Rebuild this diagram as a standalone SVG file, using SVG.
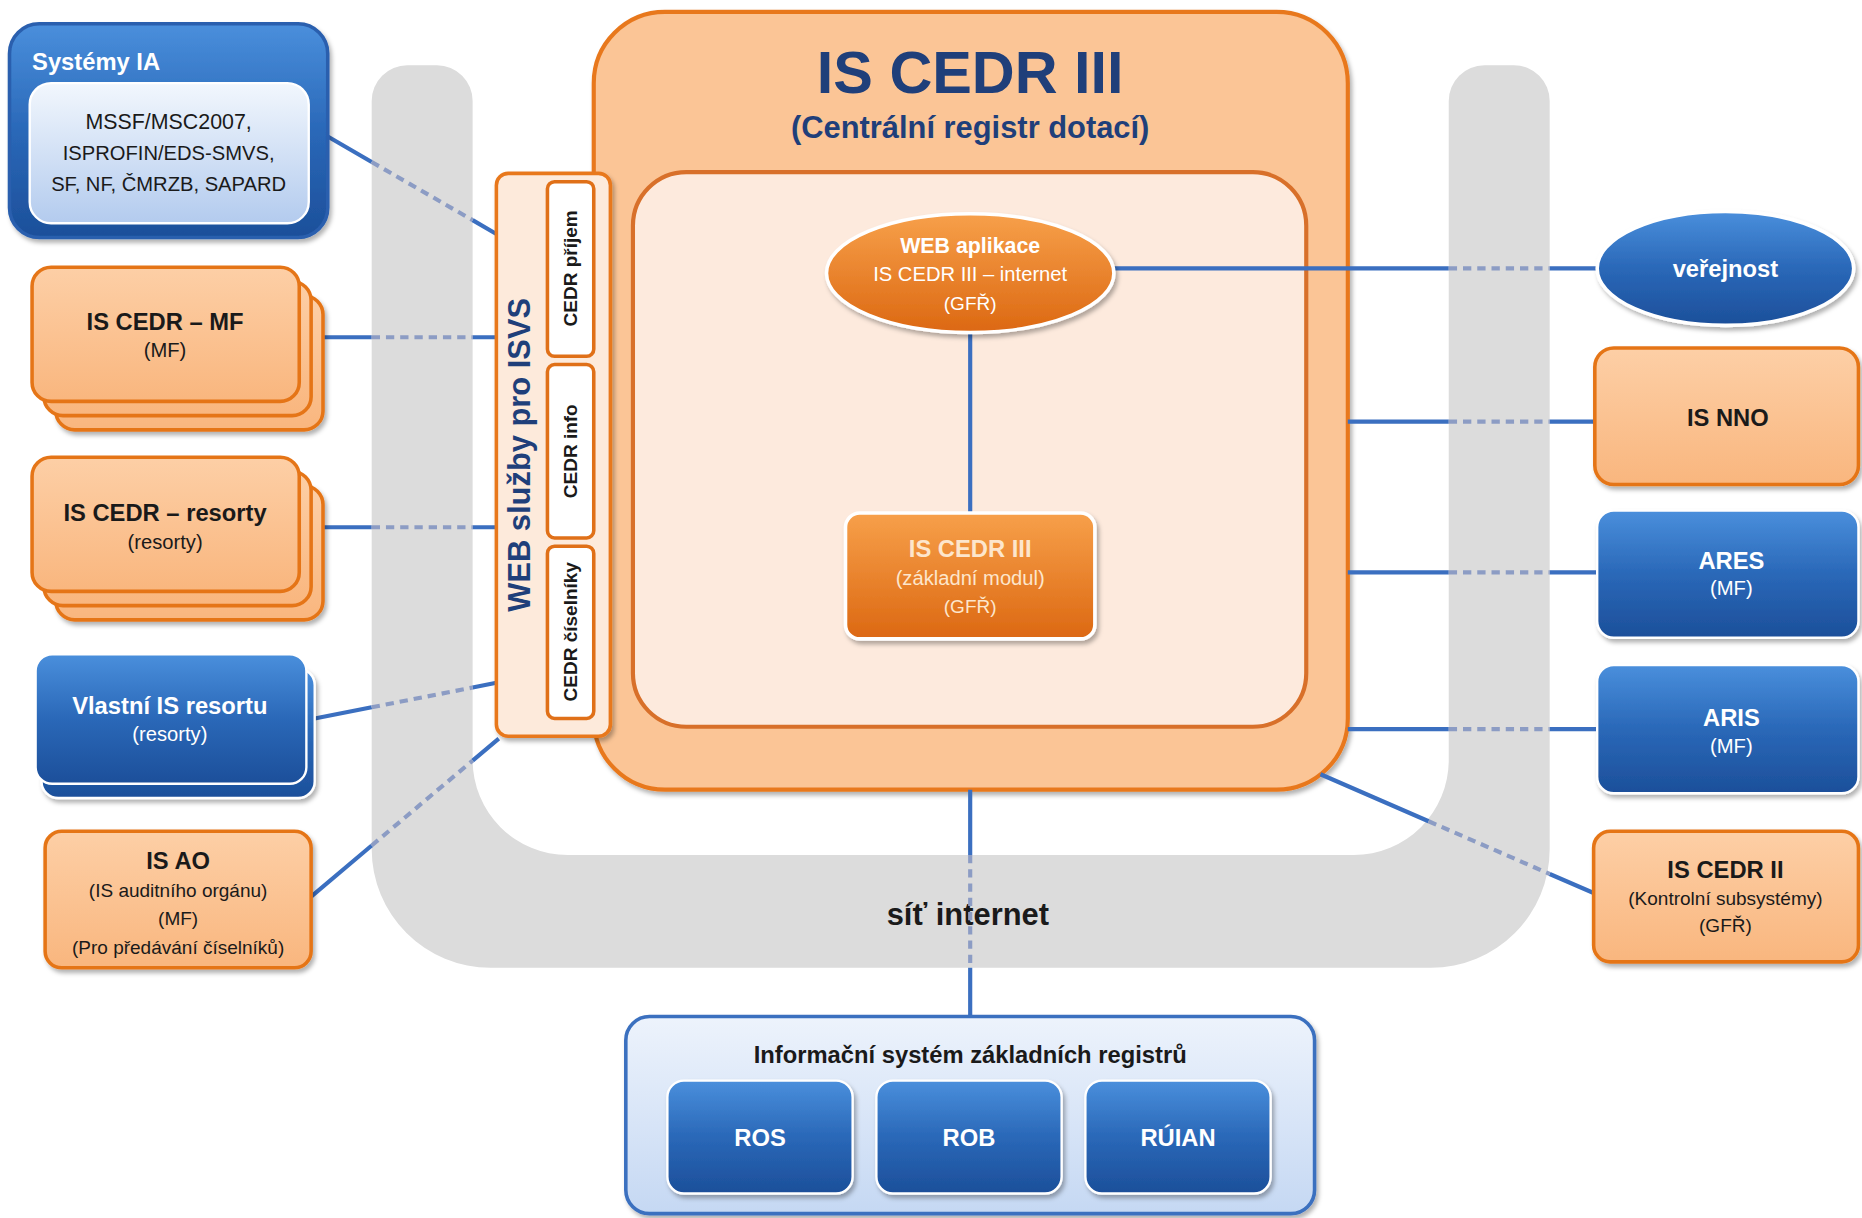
<svg xmlns="http://www.w3.org/2000/svg" width="1862" height="1218" viewBox="0 0 1862 1218">
<defs>
<linearGradient id="gBlue" x1="0" y1="0" x2="0" y2="1"><stop offset="0" stop-color="#4a8fdc"/><stop offset="0.5" stop-color="#2a68b8"/><stop offset="1" stop-color="#1c4f9a"/></linearGradient>
<linearGradient id="gOrL" x1="0" y1="0" x2="0" y2="1"><stop offset="0" stop-color="#fdcfa6"/><stop offset="1" stop-color="#f9b67e"/></linearGradient>
<linearGradient id="gOrD" x1="0" y1="0" x2="0" y2="1"><stop offset="0" stop-color="#f7a04a"/><stop offset="1" stop-color="#dc6812"/></linearGradient>
<linearGradient id="gLB" x1="0" y1="0" x2="0" y2="1"><stop offset="0" stop-color="#f2f7fd"/><stop offset="1" stop-color="#b3cbee"/></linearGradient>
<linearGradient id="gZR" x1="0" y1="0" x2="0" y2="1"><stop offset="0" stop-color="#edf3fc"/><stop offset="1" stop-color="#c5d8f3"/></linearGradient>
<filter id="sh" x="-10%" y="-10%" width="125%" height="130%"><feDropShadow dx="2" dy="3" stdDeviation="2" flood-color="#000" flood-opacity="0.3"/></filter>
</defs>
<style>
.t{font-family:"Liberation Sans",Arial,sans-serif;text-anchor:middle}
.b{font-weight:bold}
.dk{fill:#1a1a1a}
.wh{fill:#ffffff}
.nv{fill:#1f3f7a}
.on{fill:url(#gOrL);stroke:#e57517;stroke-width:3}
.bn{fill:url(#gBlue);stroke:#ffffff;stroke-width:2}
.conn{stroke:#3b6fc0;stroke-width:3.5;fill:none}
.dash{stroke:#8c9cc4;stroke-width:3.5;stroke-dasharray:7 5;fill:none}
</style>
<rect width="1862" height="1218" fill="#ffffff"/>
<g transform="scale(1.1875)">
<g id="network">
<path d="M313,85 A30,30 0 0 1 343,55 L368,55 A30,30 0 0 1 398,85 L398,640 A80,80 0 0 0 478,720 L1140,720 A80,80 0 0 0 1220,640 L1220,85 A30,30 0 0 1 1250,55 L1275,55 A30,30 0 0 1 1305,85 L1305,715 A100,100 0 0 1 1205,815 L413,815 A100,100 0 0 1 313,715 Z" fill="#dcdcdc"/>
<text class="t b dk" x="815" y="779" font-size="26">síť internet</text>
</g>
<g id="is-cedr-iii">
<rect x="500" y="10" width="635" height="655" rx="60" fill="#fbc596" stroke="#e8781e" stroke-width="3.5" filter="url(#sh)"/>
<text class="t b nv" x="817" y="78" font-size="50">IS CEDR III</text>
<text class="t b nv" x="817" y="116" font-size="26">(Centrální registr dotací)</text>
<rect x="533" y="145" width="567" height="467" rx="45" fill="#fdeadd" stroke="#d8702a" stroke-width="3.5"/>
</g>
<g id="connectors">
<path class="conn" d="M276,115 L313,136.4 M398,185.4 L418,197"/>
<path class="dash" d="M313,136.4 L398,185.4"/>
<path class="conn" d="M262,284 L313,284 M398,284 L418,284"/>
<path class="dash" d="M313,284 L398,284"/>
<path class="conn" d="M262,444 L313,444 M398,444 L418,444"/>
<path class="dash" d="M313,444 L398,444"/>
<path class="conn" d="M265,605 L313,595.6 M398,579 L418,575"/>
<path class="dash" d="M313,595.6 L398,579"/>
<path class="conn" d="M262,755 L313,712 M398,640.5 L420,622"/>
<path class="dash" d="M313,712 L398,640.5"/>
<path class="conn" d="M937,226 L1220,226 M1305,226 L1345,226"/>
<path class="dash" d="M1220,226 L1305,226"/>
<path class="conn" d="M1135,355 L1220,355 M1305,355 L1343,355"/>
<path class="dash" d="M1220,355 L1305,355"/>
<path class="conn" d="M1135,482 L1220,482 M1305,482 L1345,482"/>
<path class="dash" d="M1220,482 L1305,482"/>
<path class="conn" d="M1135,614 L1220,614 M1305,614 L1345,614"/>
<path class="dash" d="M1220,614 L1305,614"/>
<path class="conn" d="M1112,652 L1203,691.6 M1305,736 L1342,752"/>
<path class="dash" d="M1203,691.6 L1305,736"/>
<path class="conn" d="M817,278 L817,432"/>
<path class="conn" d="M817,665 L817,720 M817,815 L817,856"/>
<path class="dash" d="M817,720 L817,815"/>
</g>
<g id="web-sluzby">
<rect x="418" y="146" width="96" height="474" rx="10" fill="#fdeadb" stroke="#e8781e" stroke-width="3" filter="url(#sh)"/>
<text class="t b nv" x="437" y="392" font-size="26" transform="rotate(-90 437 383)">WEB služby pro ISVS</text>
<rect x="461" y="153" width="39" height="147" rx="6" fill="#ffffff" stroke="#e07018" stroke-width="3"/>
<text class="t b dk" x="480" y="232" font-size="16" transform="rotate(-90 480 226)">CEDR příjem</text>
<rect x="461" y="307" width="39" height="146" rx="6" fill="#ffffff" stroke="#e07018" stroke-width="3"/>
<text class="t b dk" x="480" y="386" font-size="16" transform="rotate(-90 480 380)">CEDR info</text>
<rect x="461" y="460" width="39" height="145" rx="6" fill="#ffffff" stroke="#e07018" stroke-width="3"/>
<text class="t b dk" x="480" y="538" font-size="16" transform="rotate(-90 480 532)">CEDR číselníky</text>
</g>
<g id="web-aplikace">
<ellipse cx="817" cy="230" rx="121" ry="50" fill="url(#gOrD)" stroke="#ffffff" stroke-width="3" filter="url(#sh)"/>
<text class="t b wh" x="817" y="213" font-size="18">WEB aplikace</text>
<text class="t wh" x="817" y="237" font-size="17">IS CEDR III – internet</text>
<text class="t wh" x="817" y="261" font-size="16">(GFŘ)</text>
</g>
<g id="zakladni-modul">
<rect x="712" y="432" width="210" height="106" rx="12" fill="url(#gOrD)" stroke="#ffffff" stroke-width="3" filter="url(#sh)"/>
<text class="t b" x="817" y="469" font-size="20" fill="#fde6cc">IS CEDR III</text>
<text class="t" x="817" y="493" font-size="17" fill="#fde6cc">(základní modul)</text>
<text class="t" x="817" y="516" font-size="16" fill="#fde6cc">(GFŘ)</text>
</g>
<g id="systemy-ia">
<rect x="8" y="20" width="268" height="180" rx="25" fill="url(#gBlue)" stroke="#2a5fae" stroke-width="3" filter="url(#sh)"/>
<text class="t b wh" x="27" y="59" font-size="20" style="text-anchor:start">Systémy IA</text>
<rect x="25" y="70" width="235" height="118" rx="18" fill="url(#gLB)" stroke="#ffffff" stroke-width="2"/>
<text class="t dk" x="142" y="109" font-size="18">MSSF/MSC2007,</text>
<text class="t dk" x="142" y="135" font-size="17">ISPROFIN/EDS-SMVS,</text>
<text class="t dk" x="142" y="161" font-size="17">SF, NF, ČMRZB, SAPARD</text>
</g>
<g id="is-cedr-mf">
<rect class="on" x="47" y="249" width="225" height="113" rx="16" filter="url(#sh)"/>
<rect class="on" x="37" y="237" width="225" height="113" rx="16"/>
<rect class="on" x="27" y="225" width="225" height="113" rx="16"/>
<text class="t b dk" x="139" y="278" font-size="20">IS CEDR – MF</text>
<text class="t dk" x="139" y="301" font-size="17">(MF)</text>
</g>
<g id="is-cedr-resorty">
<rect class="on" x="47" y="409" width="225" height="113" rx="16" filter="url(#sh)"/>
<rect class="on" x="37" y="397" width="225" height="113" rx="16"/>
<rect class="on" x="27" y="385" width="225" height="113" rx="16"/>
<text class="t b dk" x="139" y="439" font-size="20">IS CEDR – resorty</text>
<text class="t dk" x="139" y="462" font-size="17">(resorty)</text>
</g>
<g id="vlastni-is">
<rect class="bn" x="35" y="563" width="230" height="109" rx="14" filter="url(#sh)"/>
<rect class="bn" x="30" y="551" width="228" height="109" rx="14"/>
<text class="t b wh" x="143" y="601" font-size="20">Vlastní IS resortu</text>
<text class="t wh" x="143" y="624" font-size="17">(resorty)</text>
</g>
<g id="is-ao">
<rect class="on" x="38" y="700" width="224" height="115" rx="14" filter="url(#sh)"/>
<text class="t b dk" x="150" y="732" font-size="20">IS AO</text>
<text class="t dk" x="150" y="755" font-size="16">(IS auditního orgánu)</text>
<text class="t dk" x="150" y="779" font-size="16">(MF)</text>
<text class="t dk" x="150" y="803" font-size="16">(Pro předávání číselníků)</text>
</g>
<g id="verejnost">
<ellipse cx="1453" cy="226" rx="108" ry="48" fill="url(#gBlue)" stroke="#ffffff" stroke-width="3" filter="url(#sh)"/>
<text class="t b wh" x="1453" y="233" font-size="20">veřejnost</text>
</g>
<g id="is-nno">
<rect class="on" x="1343" y="293" width="222" height="115" rx="16" filter="url(#sh)"/>
<text class="t b dk" x="1455" y="359" font-size="20">IS NNO</text>
</g>
<g id="ares">
<rect class="bn" x="1345" y="430" width="220" height="107" rx="14" filter="url(#sh)"/>
<text class="t b wh" x="1458" y="479" font-size="20">ARES</text>
<text class="t wh" x="1458" y="501" font-size="17">(MF)</text>
</g>
<g id="aris">
<rect class="bn" x="1345" y="560" width="220" height="108" rx="14" filter="url(#sh)"/>
<text class="t b wh" x="1458" y="611" font-size="20">ARIS</text>
<text class="t wh" x="1458" y="634" font-size="17">(MF)</text>
</g>
<g id="is-cedr-ii">
<rect class="on" x="1342" y="700" width="223" height="110" rx="14" filter="url(#sh)"/>
<text class="t b dk" x="1453" y="739" font-size="20">IS CEDR II</text>
<text class="t dk" x="1453" y="762" font-size="16">(Kontrolní subsystémy)</text>
<text class="t dk" x="1453" y="785" font-size="16">(GFŘ)</text>
</g>
<g id="iszr">
<rect x="527" y="856" width="580" height="166" rx="20" fill="url(#gZR)" stroke="#3a6fbf" stroke-width="3" filter="url(#sh)"/>
<text class="t b dk" x="817" y="895" font-size="20">Informační systém základních registrů</text>
</g>
<g id="ros">
<rect class="bn" x="562" y="910" width="156" height="95" rx="14" stroke-width="3" filter="url(#sh)"/>
<text class="t b wh" x="640" y="965" font-size="20">ROS</text>
</g>
<g id="rob">
<rect class="bn" x="738" y="910" width="156" height="95" rx="14" stroke-width="3" filter="url(#sh)"/>
<text class="t b wh" x="816" y="965" font-size="20">ROB</text>
</g>
<g id="ruian">
<rect class="bn" x="914" y="910" width="156" height="95" rx="14" stroke-width="3" filter="url(#sh)"/>
<text class="t b wh" x="992" y="965" font-size="20">RÚIAN</text>
</g>
</g>
</svg>
